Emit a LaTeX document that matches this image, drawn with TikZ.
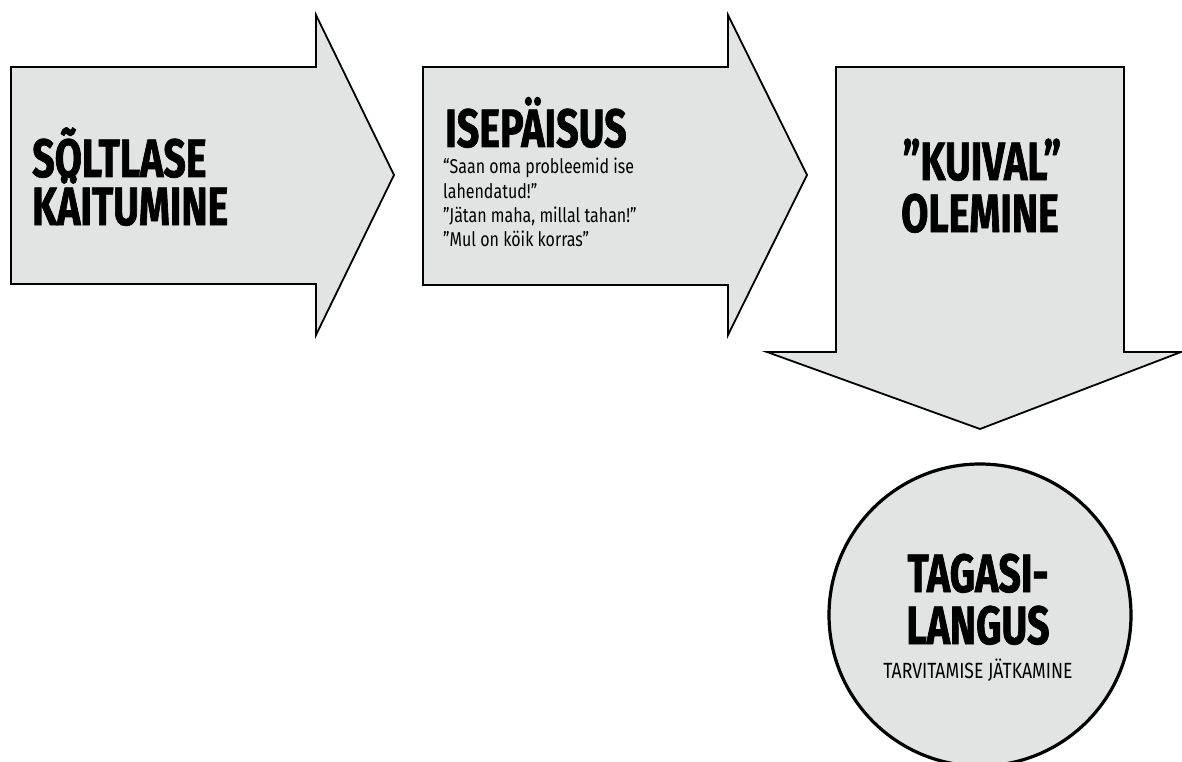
\documentclass[tikz,border=0pt]{standalone}
\usepackage{fontspec}
\setmainfont{Fira Sans}
\newfontfamily\bigf{Fira Sans}[FakeStretch=0.73, FakeBold=1.2]
\newfontfamily\smallf{Fira Sans}[FakeStretch=0.8]
\definecolor{shapefill}{HTML}{E2E3E3}
\tikzset{
  shapebox/.style={draw=black, fill=shapefill, line width=1.8pt, line join=miter},
  circbox/.style={draw=black, fill=shapefill, line width=3.2pt},
  bigtxt/.style={font=\bigf\bfseries\fontsize{54}{48}\selectfont, inner sep=0pt, anchor=base west},
  bigtxtc/.style={font=\bigf\bfseries\fontsize{54}{48}\selectfont, inner sep=0pt, anchor=base},
  smalltxt/.style={font=\smallf\fontsize{20}{24}\selectfont, inner sep=0pt, anchor=base west},
}
\begin{document}
\begin{tikzpicture}[x=1pt,y=-1pt]
\useasboundingbox (0,0) rectangle (1182,762);
% arrow 1
\draw[shapebox] (11,67) -- (316,67) -- (316,15) -- (394,175) -- (316,335) -- (316,284) -- (11,284) -- cycle;
% arrow 2
\draw[shapebox] (423,67) -- (728,67) -- (728,15) -- (807,175) -- (728,335) -- (728,285) -- (423,285) -- cycle;
% arrow 3 (down)
\draw[shapebox] (836,67) -- (1124,67) -- (1124,352) -- (1181,352) -- (980,429) -- (767,352) -- (836,352) -- cycle;
% circle
\draw[circbox] (980,615) circle[radius=151];

\node[bigtxt] (a1) at (32,177) {SÕLTLASE};
\node[bigtxt] (a2) at (32,225) {KÄITUMINE};

\node[bigtxt] (b1) at (445,147) {ISEPÄISUS};
\node[smalltxt] (b2) at (443,174) {“Saan oma probleemid ise};
\node[smalltxt] (b3) at (443,198) {lahendatud!”};
\node[smalltxt] (b4) at (443,222) {”Jätan maha, millal tahan!”};
\node[smalltxt] (b5) at (443,246) {”Mul on köik korras”};

\node[bigtxtc] (c1) at (982,180) {”KUIVAL”};
\node[bigtxtc] (c2) at (980,232) {OLEMINE};

\node[bigtxtc] (d1) at (978,592) {TAGASI-};
\node[bigtxtc] (d2) at (978,644) {LANGUS};
\node[font=\smallf\fontsize{22}{24}\selectfont, inner sep=0pt, anchor=base] (d3) at (978,678) {TARVITAMISE JÄTKAMINE};
\end{tikzpicture}
\end{document}
